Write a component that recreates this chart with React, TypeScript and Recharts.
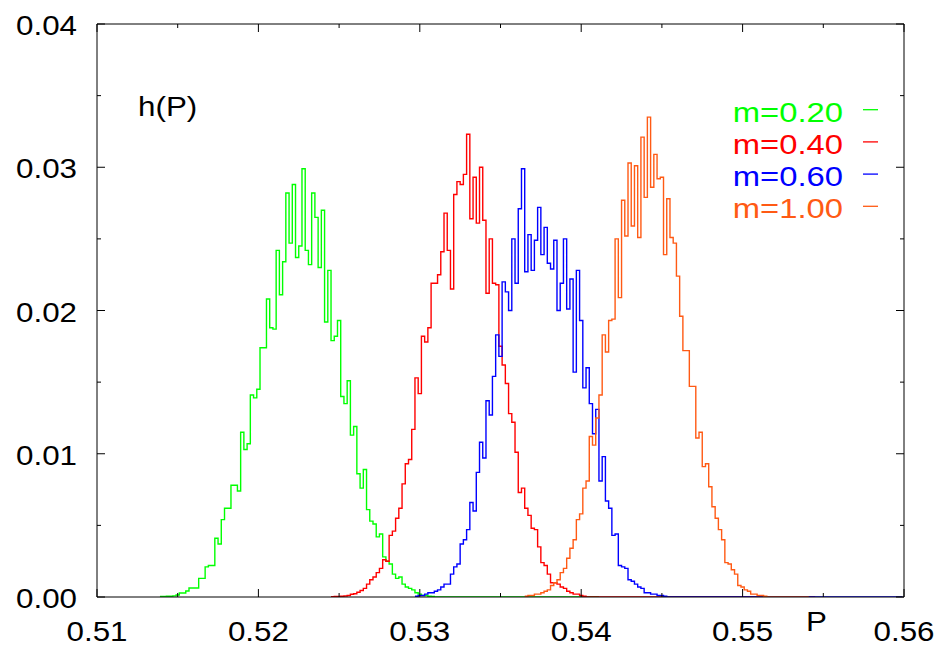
import React from "react"
import { LineChart, Line, XAxis, YAxis, Legend, Label } from "recharts"

const FONT = "'Liberation Sans', Arial, Helvetica, sans-serif"
const STRETCH = 1.12

// histogram bins shared by all runs
const binStart = 0.5101
const binWidth = 0.0002
const binCount = 250

const xTicks = [0.51, 0.515, 0.52, 0.525, 0.53, 0.535, 0.54, 0.545, 0.55, 0.555, 0.56]
const yTicks = [0, 0.005, 0.01, 0.015, 0.02, 0.025, 0.03, 0.035, 0.04]

const seriesKeys = ["g", "r", "b", "o"]
const seriesNames = ["m=0.20", "m=0.40", "m=0.60", "m=1.00"]
const seriesColors = ["#00ff00", "#ff0000", "#0000ff", "#ff5a14"]
const firstBin = [0.5139, 0.5245, 0.5297, 0.5365]
const zeroRange = [
  [0.5139, 0.5411],
  [0.5245, 0.5545],
  [0.5297, 0.5599],
  [0.5365, 0.5541],
]

const green = [
  0.00003, 0.00003, 0.00005, 0.00005, 0.00008, 0.00014, 0.00028, 0.00028, 0.00042, 0.00063,
  0.00063, 0.00063, 0.0013, 0.0013, 0.0021, 0.0022, 0.0022, 0.0041, 0.0037, 0.0054,
  0.0062, 0.0062, 0.0078, 0.0078, 0.0074, 0.0115, 0.0103, 0.0107, 0.0141, 0.0139,
  0.0145, 0.0174, 0.0174, 0.0208, 0.0188, 0.0187, 0.0242, 0.0211, 0.0234, 0.0282,
  0.0247, 0.0288, 0.0237, 0.0245, 0.0299, 0.0242, 0.0232, 0.0282, 0.0265, 0.023,
  0.027, 0.0192, 0.0228, 0.0179, 0.0182, 0.0193, 0.014, 0.0135, 0.0151, 0.0113,
  0.0119, 0.0086, 0.0076, 0.0089, 0.0061, 0.0053, 0.0051, 0.0042, 0.0044, 0.0028,
  0.0025, 0.0023, 0.0016, 0.0013, 0.0014, 0.0009, 0.0007, 0.0006, 0.0005, 0.0003,
  0.0002, 0.0001, 0.0001, 0.00005, 0.00003,
]

const red = [
  0.00002, 0.00003, 0.00004,
  0.00005, 0.00007, 0.0001, 0.00019, 0.00023, 0.00033, 0.00045, 0.0006, 0.0009, 0.0012,
  0.0014, 0.0017, 0.002, 0.0026, 0.0025, 0.0043, 0.0046, 0.0055, 0.0062, 0.0079,
  0.0093, 0.0096, 0.0117, 0.0153, 0.0142, 0.0182, 0.0178, 0.0188, 0.0219, 0.0219,
  0.0225, 0.0241, 0.0268, 0.0242, 0.0215, 0.0281, 0.029, 0.0288, 0.0295, 0.0323,
  0.0264, 0.0293, 0.0261, 0.03, 0.0263, 0.0212, 0.025, 0.0219, 0.0218, 0.0175,
  0.0162, 0.0149, 0.0128, 0.0122, 0.0101, 0.0073, 0.0076, 0.0062, 0.0057, 0.0048,
  0.0047, 0.0035, 0.0024, 0.0022, 0.0016, 0.001, 0.001, 0.0009, 0.0007, 0.0006,
  0.0004, 0.0003, 0.0002, 0.0002, 0.0001, 0.00005,
]

const blue = [
  0.00005, 0.0001, 0.0001, 0.0002, 0.0003, 0.0003, 0.0004, 0.0005,
  0.0007, 0.0009, 0.0009, 0.0016, 0.0021, 0.0023, 0.0037, 0.004, 0.0047, 0.0066,
  0.006, 0.0087, 0.0108, 0.0097, 0.0137, 0.0127, 0.0154, 0.0183, 0.0168, 0.022,
  0.0213, 0.02, 0.025, 0.0219, 0.0271, 0.0299, 0.0227, 0.0253, 0.0228, 0.0249,
  0.0272, 0.0239, 0.0258, 0.0233, 0.0229, 0.0249, 0.02, 0.0219, 0.025, 0.0201,
  0.0222, 0.0157, 0.0228, 0.0193, 0.0146, 0.016, 0.0135, 0.0114, 0.0131, 0.0081,
  0.0098, 0.0067, 0.0062, 0.0043, 0.0044, 0.0022, 0.0021, 0.002, 0.0012, 0.0011,
  0.0009, 0.0007, 0.0006, 0.0003, 0.0003, 0.0002, 0.0002, 0.0001, 0.0001, 0.00005,
]

const orange = [
  0.00005, 0.0001, 0.0001, 0.0002, 0.0002, 0.0003, 0.0004, 0.0005, 0.0008, 0.001,
  0.0012, 0.0017, 0.002, 0.0027, 0.0034, 0.004, 0.0054, 0.0058, 0.0076, 0.0081,
  0.0112, 0.0106, 0.0125, 0.0141, 0.0183, 0.0171, 0.0193, 0.0194, 0.025, 0.0209,
  0.0277, 0.0252, 0.0303, 0.0259, 0.0301, 0.0251, 0.0321, 0.0279, 0.0335, 0.0286,
  0.0309, 0.0292, 0.0293, 0.0239, 0.0278, 0.0251, 0.0247, 0.0224, 0.0196, 0.0172,
  0.0172, 0.0147, 0.0147, 0.0111, 0.0115, 0.0091, 0.0093, 0.0077, 0.0063, 0.0055,
  0.0047, 0.004, 0.0024, 0.0023, 0.0019, 0.0016, 0.0008, 0.0007, 0.0005, 0.0004,
  0.0002, 0.0002, 0.0001, 0.0001, 0.00005,
]

const seriesValues = [green, red, blue, orange]

const binIndex = (x: number) => Math.round((x - binStart) / binWidth)

const rows = Array.from({ length: binCount }, (_, j) => {
  const row: Record<string, number | null> = { x: +(binStart + j * binWidth).toFixed(4) }
  seriesKeys.forEach((key, i) => {
    const k = j - binIndex(firstBin[i])
    const vals = seriesValues[i]
    if (k >= 0 && k < vals.length) row[key] = vals[k]
    else if (j >= binIndex(zeroRange[i][0]) && j <= binIndex(zeroRange[i][1])) row[key] = 0
    else row[key] = null
  })
  return row
})

const isMajor = (v: number) => Math.abs(v * 100 - Math.round(v * 100)) < 1e-6

function Txt({ x, y, anchor = "start", fill = "#000", stretch = STRETCH, children }: any) {
  return (
    <text
      transform={`translate(${x},${y}) scale(${stretch},1)`}
      textAnchor={anchor}
      fontFamily={FONT}
      fontSize={28}
      fill={fill}
    >
      {children}
    </text>
  )
}

function BottomTick({ x, y, payload }: any) {
  const major = isMajor(payload.value)
  return (
    <g>
      <line x1={x} x2={x} y1={y} y2={y - (major ? 8 : 4)} stroke="#000" />
      {major && (
        <Txt x={x} y={y + 44} anchor="middle">
          {payload.value.toFixed(2)}
        </Txt>
      )}
    </g>
  )
}

function LeftTick({ x, y, payload }: any) {
  const major = isMajor(payload.value)
  return (
    <g>
      <line x1={x} x2={x + (major ? 8 : 4)} y1={y} y2={y} stroke="#000" />
      {major && (
        <Txt x={x - 20} y={y + 11} anchor="end">
          {payload.value.toFixed(2)}
        </Txt>
      )}
    </g>
  )
}

function TopTick({ x, y, payload }: any) {
  return <line x1={x} x2={x} y1={y} y2={y + (isMajor(payload.value) ? 8 : 4)} stroke="#000" />
}

function RightTick({ x, y, payload }: any) {
  return <line x1={x} x2={x - (isMajor(payload.value) ? 8 : 4)} y1={y} y2={y} stroke="#000" />
}

function KeyBox({ payload }: any) {
  return (
    <svg width={940} height={649} style={{ position: "absolute", left: 0, top: 0 }}>
      {(payload || []).map((p: any, i: number) => {
        const base = 121.7 + i * 32.2
        return (
          <g key={p.value}>
            <Txt x={843} y={base} anchor="end" fill={p.color} stretch={1.17}>
              {p.value}
            </Txt>
            <line x1={863} x2={878} y1={base - 12} y2={base - 12} stroke={p.color} strokeWidth={1.3} />
          </g>
        )
      })}
    </svg>
  )
}

export default function App() {
  return (
    <div style={{ position: "absolute", left: 0, top: 0, width: 940, height: 649, background: "#fff" }}>
      <LineChart width={940} height={649} data={rows} margin={{ top: 24, right: 36, bottom: 4, left: 17 }}>
        <XAxis
          dataKey="x"
          type="number"
          domain={[0.51, 0.56]}
          ticks={xTicks}
          interval={0}
          allowDataOverflow
          height={48}
          tickLine={false}
          tickSize={0}
          tickMargin={0}
          tick={BottomTick}
          axisLine={{ stroke: "#000" }}
          label={
            <Label
              content={({ viewBox }: any) => (
                <Txt x={viewBox.x + viewBox.width - 98} y={viewBox.y + 34}>
                  P
                </Txt>
              )}
            />
          }
        />
        <XAxis
          xAxisId="top"
          orientation="top"
          mirror
          dataKey="x"
          type="number"
          domain={[0.51, 0.56]}
          ticks={xTicks}
          interval={0}
          allowDataOverflow
          tickLine={false}
          tickSize={0}
          tickMargin={0}
          tick={TopTick}
          axisLine={{ stroke: "#000" }}
        />
        <YAxis
          type="number"
          domain={[0, 0.04]}
          ticks={yTicks}
          interval={0}
          allowDataOverflow
          width={80}
          tickLine={false}
          tickSize={0}
          tickMargin={0}
          tick={LeftTick}
          axisLine={{ stroke: "#000" }}
          label={
            <Label
              content={({ viewBox }: any) => (
                <Txt x={viewBox.x + viewBox.width + 41} y={viewBox.y + 92}>
                  h(P)
                </Txt>
              )}
            />
          }
        />
        <YAxis
          yAxisId="right"
          orientation="right"
          mirror
          type="number"
          domain={[0, 0.04]}
          ticks={yTicks}
          interval={0}
          allowDataOverflow
          tickLine={false}
          tickSize={0}
          tickMargin={0}
          tick={RightTick}
          axisLine={{ stroke: "#000" }}
        />
        {seriesKeys.map((key, i) => (
          <Line
            key={key}
            dataKey={key}
            name={seriesNames[i]}
            type="stepAfter"
            stroke={seriesColors[i]}
            strokeWidth={1.4}
            dot={false}
            activeDot={false}
            connectNulls={false}
            isAnimationActive={false}
          />
        ))}
        <Legend
          layout="horizontal"
          verticalAlign="middle"
          align="center"
          content={KeyBox}
          wrapperStyle={{ left: 0, top: 0, width: 940, height: 649 }}
        />
      </LineChart>
    </div>
  )
}
